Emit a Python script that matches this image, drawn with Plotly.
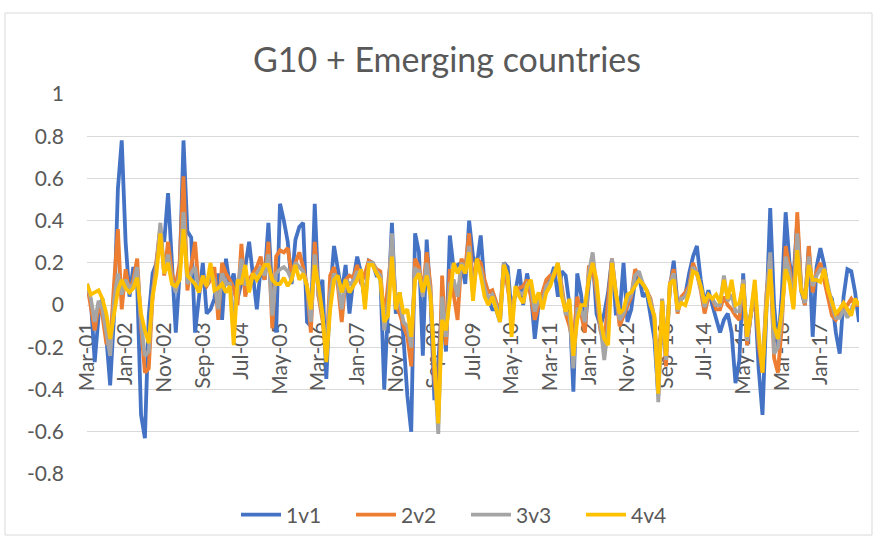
import plotly.graph_objects as go

MONTHS = ["Jan", "Feb", "Mar", "Apr", "May", "Jun", "Jul", "Aug", "Sep", "Oct", "Nov", "Dec"]
categories = []
for yr in range(2001, 2018):
    for mi, mn in enumerate(MONTHS):
        if (yr == 2001 and mi < 2) or (yr == 2017 and mi > 10):
            continue
        categories.append(f"{mn}-{yr % 100:02d}")

tick_labels = ["Mar-01", "Jan-02", "Nov-02", "Sep-03", "Jul-04", "May-05", "Mar-06",
               "Jan-07", "Nov-07", "Sep-08", "Jul-09", "May-10", "Mar-11", "Jan-12",
               "Nov-12", "Sep-13", "Jul-14", "May-15", "Mar-16", "Jan-17"]

s1v1 = [0.10, 0.02, -0.27, -0.05, 0.03, -0.15, -0.38, -0.05, 0.55, 0.78,
        0.30, 0.04, 0.18, 0.10, -0.52, -0.63, -0.05, 0.15, 0.20, 0.35,
        0.30, 0.53, 0.20, -0.13, 0.15, 0.78, 0.35, 0.32, -0.13, 0.05,
        0.20, -0.04, -0.02, 0.03, 0.15, -0.07, 0.22, 0.09, 0.15, 0.03,
        0.10, 0.18, 0.30, 0.12, -0.02, 0.18, 0.12, 0.39, 0.05, -0.13,
        0.48, 0.40, 0.30, 0.10, 0.31, 0.37, 0.39, -0.08, -0.10, 0.48,
        0.04, 0.12, -0.35, 0.06, 0.28, 0.17, 0.06, 0.19, -0.04, 0.12,
        0.23, 0.15, 0.01, 0.21, 0.20, 0.14, 0.14, -0.40, -0.04, 0.39,
        -0.04, 0.06, -0.16, -0.43, -0.60, 0.34, 0.25, -0.24, 0.31, 0.03,
        -0.45, -0.27, 0.00, -0.22, 0.33, 0.17, 0.19, 0.20, 0.10, 0.40,
        0.23, 0.19, 0.33, 0.09, 0.03, -0.02, -0.02, -0.08, 0.20, 0.18,
        -0.04, 0.07, 0.17, 0.00, 0.15, 0.06, -0.16, 0.00, 0.04, 0.10,
        0.12, 0.18, 0.04, 0.16, 0.14, 0.00, -0.41, 0.15, 0.05, -0.11,
        0.10, 0.23, -0.04, -0.10, -0.04, 0.06, 0.22, -0.04, -0.04, 0.20,
        -0.08, -0.02, 0.12, 0.14, 0.04, 0.06, -0.04, -0.16, -0.43, 0.00,
        -0.21, 0.08, 0.21, 0.00, 0.03, 0.05, 0.15, 0.23, 0.28, 0.12,
        0.01, 0.07, 0.00, -0.07, -0.13, -0.07, -0.04, -0.13, -0.37, -0.26,
        0.15, -0.19, -0.04, 0.06, -0.30, -0.52, -0.04, 0.46, 0.00, -0.20,
        0.05, 0.44, 0.20, 0.12, 0.40, 0.07, 0.00, 0.28, -0.15, 0.18,
        0.27, 0.19, 0.06, 0.03, -0.13, -0.23, 0.04, 0.17, 0.16, 0.06,
        -0.08]

s2v2 = [0.10, 0.00, -0.12, 0.00, -0.05, -0.18, -0.19, 0.10, 0.36, -0.02,
        0.17, 0.06, 0.12, 0.22, -0.10, -0.32, -0.30, 0.05, 0.20, 0.37,
        0.14, 0.30, 0.15, 0.09, 0.20, 0.61, 0.07, 0.20, 0.30, 0.06,
        0.12, 0.09, 0.12, 0.18, -0.07, 0.20, 0.15, 0.12, 0.08, 0.00,
        0.29, 0.04, 0.12, 0.15, 0.18, 0.23, 0.12, 0.30, -0.11, 0.23,
        0.26, 0.25, 0.27, 0.15, 0.20, 0.25, 0.18, 0.09, -0.13, 0.30,
        0.04, -0.07, -0.24, 0.14, 0.18, 0.09, -0.08, 0.12, 0.14, 0.13,
        0.19, 0.10, 0.15, 0.21, 0.20, 0.17, 0.16, -0.07, 0.10, 0.28,
        0.00, -0.04, -0.10, -0.15, -0.29, 0.22, 0.18, 0.06, 0.25, 0.09,
        -0.35, -0.51, 0.14, -0.19, 0.17, 0.06, -0.07, 0.22, 0.18, 0.34,
        0.09, 0.22, 0.20, 0.12, 0.06, 0.07, 0.02, -0.04, 0.20, 0.09,
        -0.04, 0.06, 0.08, 0.09, 0.12, 0.04, -0.07, 0.00, 0.06, 0.12,
        0.14, 0.14, 0.18, 0.09, -0.04, -0.10, -0.18, 0.04, -0.04, -0.13,
        0.18, 0.18, 0.05, -0.12, -0.18, 0.03, 0.22, 0.06, -0.10, -0.05,
        0.00, 0.04, 0.17, 0.14, 0.10, 0.07, 0.03, -0.07, -0.40, 0.03,
        -0.29, 0.10, 0.17, -0.04, 0.04, 0.06, 0.09, 0.20, 0.15, 0.07,
        -0.04, 0.04, 0.03, -0.02, -0.02, 0.04, 0.00, -0.02, -0.05, -0.07,
        0.12, -0.19, -0.04, 0.06, -0.19, -0.32, 0.05, 0.23, -0.25, -0.32,
        -0.10, 0.28, 0.18, 0.00, 0.44, 0.09, 0.00, 0.28, 0.06, 0.16,
        0.20, 0.12, 0.04, -0.05, -0.07, -0.04, -0.02, 0.00, 0.03, 0.00,
        0.00]

s3v3 = [0.10, 0.03, -0.08, 0.02, -0.02, -0.12, -0.24, 0.02, 0.15, 0.05,
        0.12, 0.08, 0.10, 0.18, -0.08, -0.24, -0.22, 0.05, 0.18, 0.39,
        0.15, 0.24, 0.12, 0.06, 0.15, 0.44, 0.10, 0.15, 0.18, 0.06,
        0.13, 0.09, 0.15, 0.12, -0.02, 0.15, 0.10, 0.10, -0.05, 0.06,
        0.22, 0.10, 0.10, 0.14, 0.15, 0.18, 0.14, 0.24, -0.05, 0.15,
        0.17, 0.18, 0.16, 0.12, 0.20, 0.18, 0.16, 0.09, -0.08, 0.24,
        0.06, -0.05, -0.22, 0.06, 0.15, 0.11, -0.02, 0.12, 0.10, 0.11,
        0.16, 0.13, 0.03, 0.20, 0.20, 0.16, 0.14, -0.12, 0.02, 0.34,
        -0.01, 0.01, -0.08, -0.10, -0.20, 0.17, 0.16, 0.04, 0.20, 0.06,
        -0.30, -0.61, 0.04, -0.15, 0.10, 0.12, 0.04, 0.20, 0.16, 0.28,
        0.06, 0.20, 0.17, 0.08, 0.03, 0.05, 0.00, -0.06, 0.20, 0.12,
        -0.10, 0.07, 0.06, 0.05, 0.10, 0.08, -0.03, 0.03, 0.02, 0.09,
        0.11, 0.15, 0.20, 0.07, -0.04, -0.04, -0.30, -0.02, -0.02, -0.08,
        0.15, 0.25, 0.08, -0.10, -0.26, -0.10, 0.22, 0.06, -0.07, -0.04,
        0.02, 0.05, 0.14, 0.16, 0.10, 0.07, 0.02, -0.06, -0.46, 0.03,
        -0.26, 0.10, 0.15, -0.03, 0.03, 0.04, 0.08, 0.18, 0.15, 0.08,
        -0.01, 0.05, 0.03, 0.00, 0.00, 0.14, 0.02, 0.05, -0.03, -0.03,
        0.12, -0.17, -0.04, 0.10, -0.16, -0.30, 0.02, 0.25, -0.23, -0.20,
        -0.06, 0.23, 0.15, -0.01, 0.34, 0.08, 0.01, 0.23, 0.09, 0.14,
        0.17, 0.17, 0.09, 0.00, -0.06, -0.06, -0.02, -0.06, -0.02, 0.02,
        0.00]

s4v4 = [0.10, 0.05, 0.06, 0.07, 0.03, -0.04, -0.16, -0.05, 0.07, 0.12,
        0.08, 0.06, 0.08, 0.13, -0.04, -0.12, -0.18, 0.04, 0.15, 0.34,
        0.15, 0.20, 0.10, 0.09, 0.12, 0.36, 0.14, 0.12, 0.10, 0.06,
        0.14, 0.09, 0.20, 0.07, 0.08, 0.10, 0.06, 0.09, -0.19, 0.12,
        0.10, 0.19, 0.06, 0.15, 0.12, 0.15, 0.19, 0.19, 0.12, 0.10,
        0.10, 0.13, 0.09, 0.12, 0.19, 0.12, 0.15, 0.09, -0.02, 0.19,
        0.09, -0.04, -0.27, -0.02, 0.12, 0.14, 0.06, 0.12, 0.06, 0.09,
        0.12, 0.17, -0.02, 0.19, 0.19, 0.15, 0.12, -0.08, -0.05, 0.23,
        -0.02, 0.06, -0.04, -0.02, -0.15, 0.12, 0.15, 0.06, 0.14, 0.04,
        -0.27, -0.56, -0.07, -0.12, 0.03, 0.20, 0.15, 0.19, 0.15, 0.25,
        0.02, 0.22, 0.14, 0.04, 0.00, 0.04, -0.02, -0.08, 0.19, 0.14,
        -0.15, 0.09, 0.04, 0.01, 0.09, 0.12, 0.01, 0.06, -0.02, 0.06,
        0.09, 0.15, 0.20, 0.04, -0.03, 0.03, -0.24, -0.07, 0.00, 0.00,
        0.12, 0.20, 0.12, -0.07, -0.16, -0.19, 0.20, 0.06, -0.04, -0.02,
        0.05, 0.06, 0.09, 0.12, 0.10, 0.07, 0.00, -0.05, -0.42, 0.02,
        -0.24, 0.10, 0.12, -0.02, 0.01, 0.00, 0.06, 0.16, 0.15, 0.09,
        0.01, 0.05, 0.03, 0.05, 0.01, 0.12, 0.03, 0.12, 0.00, 0.01,
        0.10, -0.15, -0.04, 0.12, -0.13, -0.32, -0.02, 0.17, -0.10, -0.16,
        -0.03, 0.17, 0.11, -0.02, 0.26, 0.07, 0.03, 0.19, 0.12, 0.12,
        0.11, 0.17, 0.07, 0.02, -0.04, -0.02, 0.01, -0.02, -0.05, 0.03,
        0.00]

series = [("1v1", s1v1, "#4472C4"), ("2v2", s2v2, "#ED7D31"),
          ("3v3", s3v3, "#A5A5A5"), ("4v4", s4v4, "#FFC000")]

FONT = "Lato"
TXT = "#595959"

fig = go.Figure()
for name, vals, col in series:
    fig.add_trace(go.Scatter(x=categories, y=vals, mode="lines", name=name,
                             line=dict(color=col, width=3.8)))

W, H = 877, 539
L, R, T, B = 87, 18, 94, 65
pw, ph = W - L - R, H - T - B

def px_x(p):
    return (p - L) / pw

def px_y(p):
    return (H - B - p) / ph

fig.update_layout(
    template="none",
    width=W, height=H,
    margin=dict(l=L, r=R, t=T, b=B, pad=0),
    paper_bgcolor="white", plot_bgcolor="white",
    title=dict(text="G10 + Emerging countries", x=447 / W, xanchor="center",
               xref="container", y=1 - 60 / H, yref="container", yanchor="middle",
               font=dict(family=FONT, size=34, color=TXT)),
    showlegend=True,
    legend=dict(orientation="h", x=466 / W, xanchor="center", xref="container",
                y=1 - 515 / H, yref="container", yanchor="middle",
                font=dict(family=FONT, size=21, color=TXT),
                bgcolor="rgba(0,0,0,0)",
                entrywidth=60, entrywidthmode="pixels", itemwidth=40),
    xaxis=dict(type="category", range=[0, len(categories) - 1],
               tickmode="array", tickvals=tick_labels, ticktext=tick_labels,
               tickangle=-90, showgrid=False, zeroline=False, showline=False,
               ticks="", anchor="free", position=0.8 / 1.8, automargin=False,
               ticklabelstandoff=12, layer="below traces",
               tickfont=dict(family=FONT, size=21, color=TXT)),
    yaxis=dict(range=[-0.8, 1.0], tickmode="array", automargin=False,
               tickvals=[-0.8, -0.6, -0.4, -0.2, 0, 0.2, 0.4, 0.6, 0.8, 1],
               ticktext=["-0.8", "-0.6", "-0.4", "-0.2", "0", "0.2", "0.4", "0.6", "0.8", "1"],
               showgrid=True, gridcolor="#D9D9D9", gridwidth=1.3,
               zeroline=False, showline=False, ticks="",
               ticklabelstandoff=22, layer="below traces",
               tickfont=dict(family=FONT, size=21, color=TXT)),
    shapes=[dict(type="rect", xref="paper", yref="paper",
                 x0=px_x(5), x1=px_x(872), y0=px_y(535), y1=px_y(13),
                 line=dict(color="#D9D9D9", width=1), fillcolor="rgba(0,0,0,0)",
                 layer="below")],
)

fig.write_html("out.html", config={"displayModeBar": False},
               post_script="document.body.style.margin='0';document.body.style.padding='0';")
